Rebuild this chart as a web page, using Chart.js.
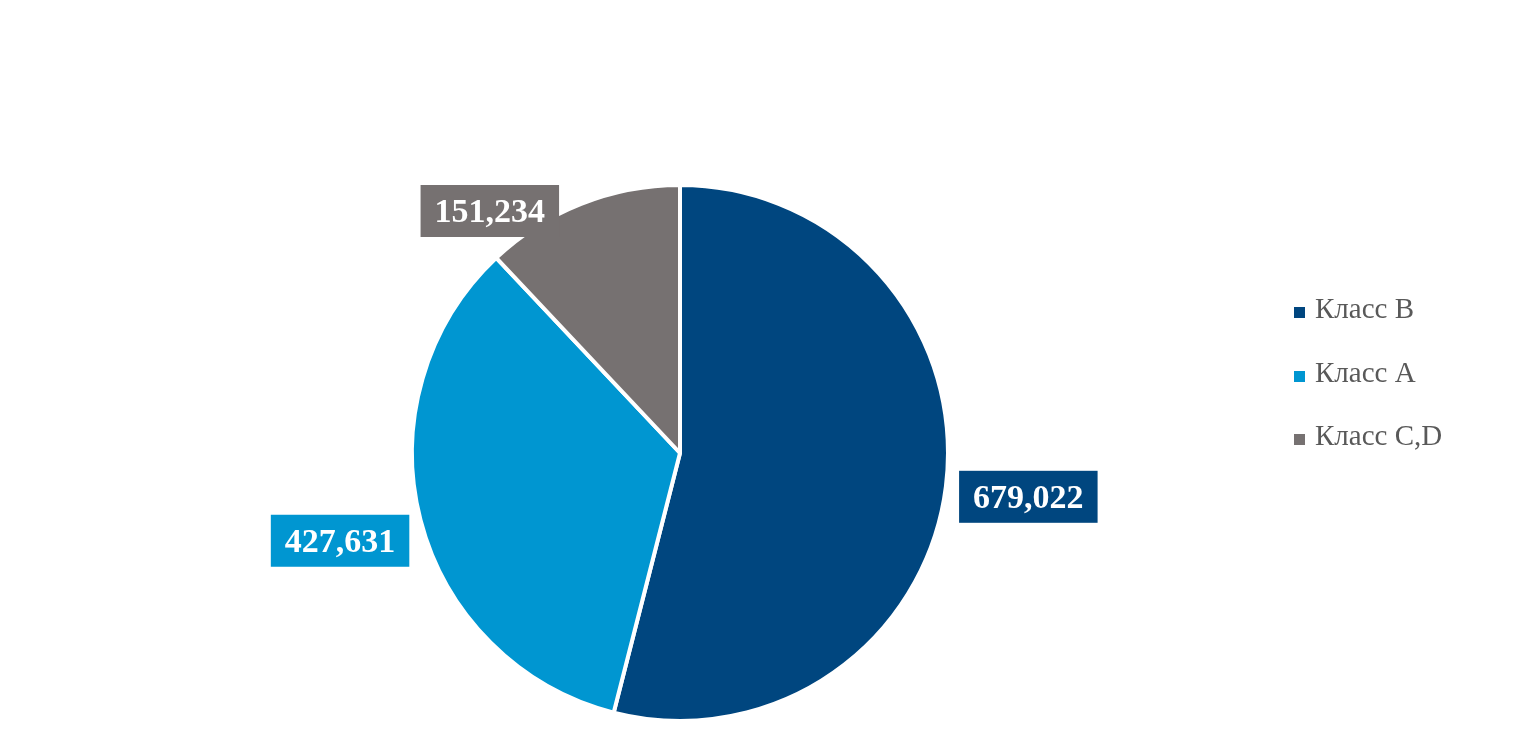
<!DOCTYPE html>
<html>
<head>
<meta charset="utf-8">
<script src="https://cdn.jsdelivr.net/npm/chart.js@4/dist/chart.umd.min.js"></script>
<style>
  html, body { margin: 0; padding: 0; background: #fff; }
  #wrap { position: relative; width: 1515px; height: 749px; }
  #legend { position: absolute; left: 1294px; top: 292px; font-family: "Liberation Serif", serif; font-size: 29px; color: #595959; }
  #legend div { height: 63.5px; display: flex; align-items: flex-start; }
  #legend span.box { display: inline-block; width: 11px; height: 11px; margin: 15px 10px 0 0; }
</style>
</head>
<body>
<div id="wrap">
  <canvas id="pie" width="1515" height="749"></canvas>
  <div id="legend"></div>
</div>
<script>
var categories = ['Класс B', 'Класс A', 'Класс C,D'];
var values = [679022, 427631, 151234];
var colors = ['#00467f', '#0096d1', '#767171'];

// legend
var legend = document.getElementById('legend');
categories.forEach(function(name, i) {
    var row = document.createElement('div');
    row.innerHTML = '<span class="box" style="background:' + colors[i] + '"></span>' + name;
    legend.appendChild(row);
});

function fmt(v) {
    return String(v).replace(/\B(?=(\d{3})+(?!\d))/g, ',');
}

var valueLabels = {
    id: 'valueLabels',
    afterDatasetsDraw: function(chart) {
        var ctx = chart.ctx;
        var meta = chart.getDatasetMeta(0);
        var area = chart.chartArea;
        ctx.save();
        ctx.font = 'bold 34px "Liberation Serif", serif';
        ctx.textAlign = 'center';
        ctx.textBaseline = 'middle';
        meta.data.forEach(function(arc, i) {
            var mid = (arc.startAngle + arc.endAngle) / 2;
            var r = arc.outerRadius * 1.31;
            var x = arc.x + Math.cos(mid) * r;
            var y = arc.y + Math.sin(mid) * r;
            var text = fmt(values[i]);
            var w = ctx.measureText(text).width + 28;
            var h = 52;
            if (y - h / 2 < area.top) {
                y = area.top + h / 2 + 2;
                x = arc.x - Math.sqrt(Math.max(0, Math.pow(arc.outerRadius + w / 2, 2) - Math.pow(arc.y - y, 2))) * 0.6 - w / 2 + 20;
            }
            ctx.fillStyle = colors[i];
            ctx.fillRect(x - w / 2, y - h / 2, w, h);
            ctx.fillStyle = '#fff';
            ctx.fillText(text, x, y + 2);
        });
        ctx.restore();
    }
};

new Chart(document.getElementById('pie').getContext('2d'), {
    type: 'pie',
    data: {
        labels: categories,
        datasets: [{
            data: values,
            backgroundColor: colors,
            borderColor: '#ffffff',
            borderWidth: 4
        }]
    },
    options: {
        responsive: false,
        animation: false,
        layout: { padding: { left: 410, right: 565, top: 183, bottom: 26 } },
        plugins: { legend: { display: false }, tooltip: { enabled: false } }
    },
    plugins: [valueLabels]
});
</script>
</body>
</html>
